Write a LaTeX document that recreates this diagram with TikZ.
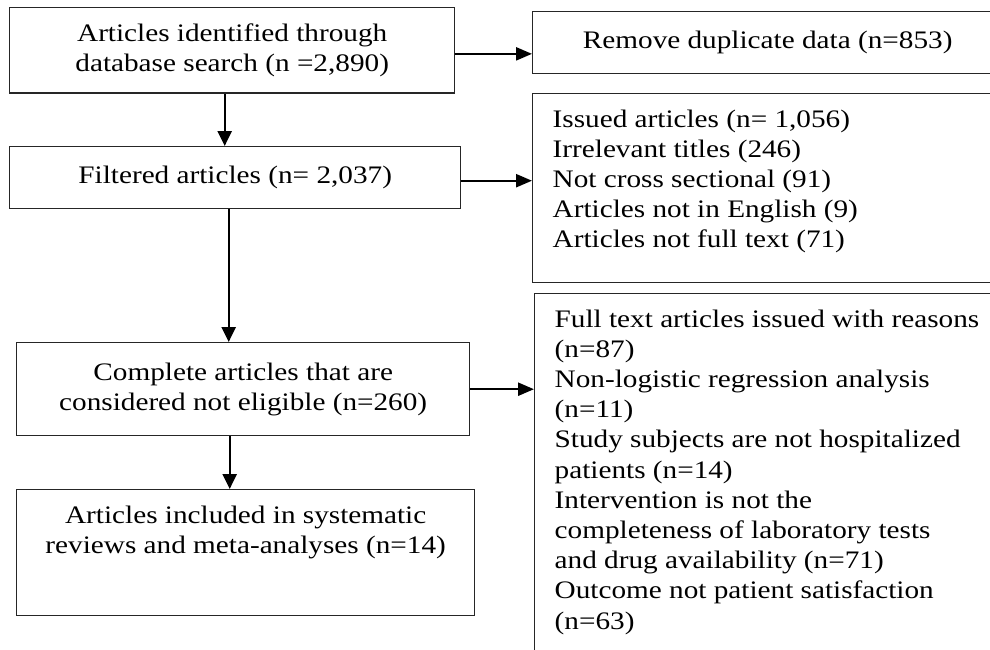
\documentclass[tikz,border=0pt]{standalone}
\usepackage{fontspec}
\setmainfont{Liberation Serif}[FakeStretch=1.16]
\usetikzlibrary{arrows.meta, positioning}
\newcommand{\topfill}[3]{\parbox[c][#1][t]{#2}{#3}}
\tikzset{
	box/.style      ={rectangle, draw=black!85, line width=0.7pt, inner xsep=10pt, inner ysep=8pt, anchor=north west, font=\fontsize{12.6}{15.1}\selectfont},
	ctrbox/.style   ={box, align=center, text centered},
	flowarrow/.style={-{Triangle[length=7.5pt, width=7pt]}, line width=1.2pt},
	sidearrow/.style={-{Triangle[length=8pt, width=6.5pt]}, line width=1.2pt},
}
\begin{document}
\begin{tikzpicture}[x=0.5pt, y=-0.5pt]
	\useasboundingbox (0,0) rectangle (990,649);
	\clip (0,0) rectangle (990,649);
	% main column
	\node[ctrbox, minimum width=222.5pt, minimum height=41.5pt] (ident) at (9,7) {Articles identified through\\database search (n =2,890)};
	\node[ctrbox, minimum width=225.5pt, minimum height=31pt] (filt) at (9,146) {Filtered articles (n= 2,037)};
	\node[ctrbox, minimum width=226.5pt, minimum height=46.5pt] (nelig) at (16,342) {Complete articles that are\\considered not eligible (n=260)};
	\node[box, minimum width=229pt, minimum height=63pt] (incl) at (16,489) {\topfill{47pt}{209pt}{\centering Articles included in systematic\\reviews and meta-analyses (n=14)}};
	% excluded column
	\node[ctrbox, minimum width=235pt, minimum height=31pt] (dupl) at (532,11) {Remove duplicate data (n=853)};
	\node[box, minimum width=235pt, minimum height=94.5pt] (excl) at (532,93) {\topfill{78.5pt}{215pt}{Issued articles (n= 1,056)\\Irrelevant titles (246)\\Not cross sectional (91)\\Articles not in English (9)\\Articles not full text (71)}};
	\node[box, minimum width=234pt, minimum height=183.5pt] (reas) at (534,293) {\topfill{167.5pt}{214pt}{Full text articles issued with reasons\\(n=87)\\Non-logistic regression analysis\\(n=11)\\Study subjects are not hospitalized\\patients (n=14)\\Intervention is not the\\completeness of laboratory tests\\and drug availability (n=71)\\Outcome not patient satisfaction\\(n=63)}};
	% connectors
	\draw[flowarrow] ([xshift=-3.75pt]ident.south) -- ([xshift=-3.75pt]ident.south |- filt.north);
	\draw[flowarrow] ([xshift=-3.25pt]filt.south) -- ([xshift=-3.25pt]filt.south |- nelig.north);
	\draw[flowarrow] ([xshift=-6.75pt]nelig.south) -- ([xshift=-6.75pt]nelig.south |- incl.north);
	\draw[sidearrow] ([yshift=-1.75pt]ident.east) -- ([yshift=-1.75pt]ident.east -| dupl.west);
	\draw[sidearrow] ([yshift=-1.5pt]filt.east) -- ([yshift=-1.5pt]filt.east -| excl.west);
	\draw[sidearrow] (nelig.east) -- (nelig.east -| reas.west);
\end{tikzpicture}
\end{document}
